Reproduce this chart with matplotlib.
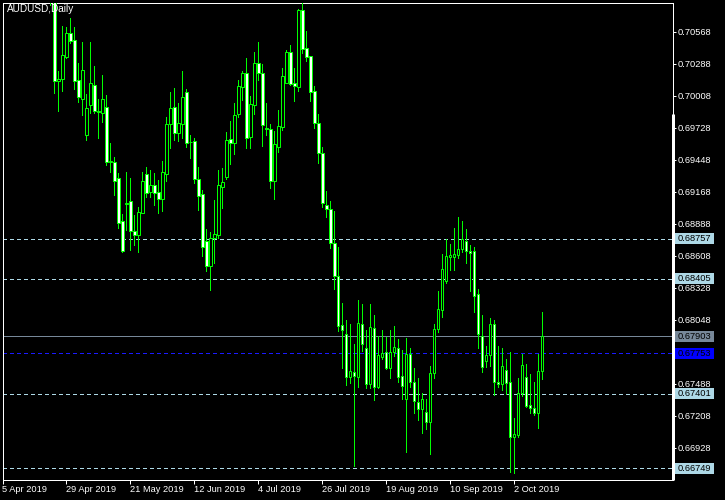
import numpy as np
import matplotlib
matplotlib.use("Agg")
import matplotlib.pyplot as plt
from matplotlib.patches import Rectangle
from matplotlib.lines import Line2D

plt.rcParams['font.family'] = ['Liberation Sans', 'DejaVu Sans']

title = "AUDUSD,Daily"
first_bar = 12  # bar index (trading days since 5 Apr 2019) of the first bar listed

opens = [
    0.71250, 0.71120, 0.70136, 0.70156, 0.70344, 0.70554, 0.70492, 0.70142, 0.69981, 0.69666,
    0.69929, 0.70099, 0.69876, 0.69859, 0.69906, 0.69430, 0.69425, 0.69285, 0.68909, 0.69064,
    0.69084, 0.68821, 0.68791, 0.68984, 0.69323, 0.69165, 0.69224, 0.69162, 0.69104, 0.69325,
    0.69757, 0.69906, 0.69679, 0.69757, 0.70037, 0.69605, 0.69609, 0.69276, 0.69145, 0.68736,
    0.68520, 0.68763, 0.68789, 0.69211, 0.69299, 0.69626, 0.69596, 0.69850, 0.70086, 0.70206,
    0.69649, 0.69929, 0.70294, 0.70204, 0.69722, 0.69714, 0.69264, 0.69561, 0.69736, 0.70121,
    0.70387, 0.70116, 0.70086, 0.70755, 0.70422, 0.70355, 0.70049, 0.69766, 0.69504, 0.69049,
    0.69014, 0.68716, 0.68433, 0.68001, 0.67923, 0.67549, 0.67593, 0.67549, 0.68010, 0.67797,
    0.67487, 0.67978, 0.67461, 0.67724, 0.67765, 0.67628, 0.67768, 0.67797, 0.67555, 0.67356,
    0.67745, 0.67505, 0.67325, 0.67264, 0.67237, 0.67150, 0.67578, 0.67964, 0.68133, 0.68389,
    0.68599, 0.68594, 0.68614, 0.68664, 0.68739, 0.68649, 0.68651, 0.68270, 0.67905, 0.67689,
    0.67739, 0.68007, 0.67505, 0.67482, 0.67608, 0.67500, 0.67024, 0.67039, 0.67404, 0.67544,
    0.67301, 0.67272, 0.67229, 0.67599,
]
highs = [
    0.71400, 0.71180, 0.70224, 0.70617, 0.70611, 0.70685, 0.70606, 0.70291, 0.70475, 0.70020,
    0.70475, 0.70268, 0.69979, 0.70189, 0.70016, 0.69591, 0.69474, 0.69334, 0.68973, 0.69337,
    0.69288, 0.68964, 0.69036, 0.69343, 0.69386, 0.69358, 0.69329, 0.69270, 0.69436, 0.69824,
    0.70037, 0.70072, 0.69941, 0.70224, 0.70066, 0.69664, 0.69635, 0.69386, 0.69183, 0.68841,
    0.68812, 0.69095, 0.69358, 0.69378, 0.69690, 0.69789, 0.69944, 0.70145, 0.70224, 0.70338,
    0.70005, 0.70390, 0.70478, 0.70285, 0.69941, 0.69760, 0.69699, 0.69883, 0.70247, 0.70408,
    0.70451, 0.70250, 0.70766, 0.70830, 0.70574, 0.70355, 0.70093, 0.69848, 0.69559, 0.69174,
    0.69086, 0.68999, 0.68686, 0.68196, 0.68045, 0.68010, 0.67835, 0.68220, 0.68185, 0.67958,
    0.68185, 0.68089, 0.67905, 0.67958, 0.67899, 0.67958, 0.67993, 0.67876, 0.67783, 0.67885,
    0.67797, 0.67622, 0.67535, 0.67404, 0.67351, 0.67643, 0.68010, 0.68299, 0.68620, 0.68751,
    0.68710, 0.68847, 0.68944, 0.68911, 0.68839, 0.68701, 0.68686, 0.68314, 0.68089, 0.67818,
    0.68060, 0.68045, 0.67818, 0.67797, 0.67704, 0.67768, 0.67185, 0.67540, 0.67748, 0.67660,
    0.67573, 0.67505, 0.67748, 0.68118,
]
lows = [
    0.70801, 0.70034, 0.69876, 0.70051, 0.70338, 0.70471, 0.70064, 0.69950, 0.69839, 0.69620,
    0.69859, 0.69854, 0.69637, 0.69780, 0.69401, 0.69343, 0.69139, 0.68847, 0.68636, 0.68832,
    0.68658, 0.68701, 0.68643, 0.68979, 0.69124, 0.69124, 0.69051, 0.68979, 0.68999, 0.69261,
    0.69553, 0.69620, 0.69614, 0.69635, 0.69561, 0.69465, 0.69246, 0.69008, 0.68605, 0.68476,
    0.68307, 0.68546, 0.68760, 0.69028, 0.69279, 0.69413, 0.69498, 0.69821, 0.69970, 0.69553,
    0.69553, 0.69850, 0.70145, 0.69570, 0.69664, 0.69203, 0.69104, 0.69518, 0.69708, 0.70119,
    0.70101, 0.69964, 0.70051, 0.70379, 0.70314, 0.69964, 0.69728, 0.69421, 0.69031, 0.68949,
    0.68672, 0.68319, 0.67951, 0.67622, 0.67476, 0.67496, 0.66770, 0.67461, 0.67776, 0.67452,
    0.67452, 0.67345, 0.67452, 0.67704, 0.67614, 0.67540, 0.67730, 0.67505, 0.67354, 0.66890,
    0.67461, 0.67229, 0.67170, 0.67059, 0.67091, 0.66873, 0.67540, 0.67937, 0.68069, 0.68371,
    0.68483, 0.68483, 0.68585, 0.68640, 0.68541, 0.68301, 0.68118, 0.67803, 0.67593, 0.67636,
    0.67645, 0.67389, 0.67461, 0.67432, 0.67397, 0.66718, 0.66709, 0.67019, 0.67380, 0.67286,
    0.67229, 0.67214, 0.67103, 0.67529,
]
closes = [
    0.71120, 0.70139, 0.70154, 0.70364, 0.70554, 0.70484, 0.70134, 0.69994, 0.70233, 0.69900,
    0.70116, 0.69876, 0.69869, 0.69976, 0.69430, 0.69436, 0.69264, 0.68896, 0.68646, 0.69069,
    0.68821, 0.68791, 0.68987, 0.69259, 0.69159, 0.69224, 0.69159, 0.69104, 0.69337, 0.69757,
    0.69897, 0.69684, 0.69766, 0.69994, 0.69596, 0.69602, 0.69281, 0.69133, 0.68686, 0.68520,
    0.68763, 0.68795, 0.69224, 0.69253, 0.69617, 0.69596, 0.69839, 0.70090, 0.70206, 0.69640,
    0.69932, 0.70294, 0.70204, 0.69754, 0.69716, 0.69264, 0.69582, 0.69743, 0.70177, 0.70387,
    0.70110, 0.70095, 0.70755, 0.70416, 0.70349, 0.70043, 0.69766, 0.69504, 0.69071, 0.69014,
    0.68716, 0.68433, 0.67995, 0.67957, 0.67549, 0.67599, 0.67558, 0.68016, 0.67832, 0.67487,
    0.67986, 0.67461, 0.67736, 0.67759, 0.67628, 0.67768, 0.67806, 0.67549, 0.67470, 0.67747,
    0.67505, 0.67334, 0.67264, 0.67351, 0.67150, 0.67578, 0.67964, 0.68139, 0.68489, 0.68608,
    0.68614, 0.68620, 0.68664, 0.68754, 0.68649, 0.68634, 0.68258, 0.67920, 0.67631, 0.67739,
    0.68007, 0.67505, 0.67482, 0.67643, 0.67496, 0.67024, 0.67045, 0.67409, 0.67651, 0.67295,
    0.67272, 0.67229, 0.67599, 0.67903,
]

date_ticks = [0, 16, 32, 48, 64, 80, 96, 112, 128]
date_labels = ["5 Apr 2019", "29 Apr 2019", "21 May 2019", "12 Jun 2019", "4 Jul 2019",
               "26 Jul 2019", "19 Aug 2019", "10 Sep 2019", "2 Oct 2019"]
price_ticks = [0.70568, 0.70288, 0.70008, 0.69728, 0.69448, 0.69168, 0.68888, 0.68608,
               0.68328, 0.68048, 0.67768, 0.67488, 0.67208, 0.66928]
level_lines = [0.68757, 0.68405, 0.67401, 0.66749]
bid_price = 0.67903
blue_level = 0.67753

W, H = 725, 500
fig = plt.figure(figsize=(W / 100, H / 100), dpi=100, facecolor='black')

def fx(px):
    return px / W

def fy(py):
    return 1 - py / H

ax_l, ax_r, ax_t, ax_b = 2.5, 672.5, 2.5, 479.5
ax = fig.add_axes([fx(ax_l), fy(ax_b), (ax_r - ax_l) / W, (ax_b - ax_t) / H])
ax.set_facecolor('black')
ax.set_xlim(0.05, 167.55)
ax.set_ylim(0.66649, 0.70823)

x = np.arange(first_bar, first_bar + len(opens))
o = np.array(opens); h = np.array(highs); l = np.array(lows); c = np.array(closes)
bull = c >= o

green = '#00FF00'
px = 0.72  # one pixel in points

ax.vlines(x, l, h, color=green, linewidth=px, zorder=3, antialiased=False)
bottoms = np.minimum(o, c)
heights = np.maximum(np.abs(c - o), 0.00001)
face = np.where(bull, 'black', 'white')
ax.bar(x, heights, bottom=bottoms, width=0.55, color=list(face), edgecolor=green,
       linewidth=px, zorder=4)

# horizontal levels
for lv in level_lines:
    ax.axhline(lv, color='#ADD8E6', linewidth=px, linestyle=(0, (4, 3)), zorder=2,
               antialiased=False)
ax.axhline(bid_price, color='#778899', linewidth=px, zorder=2, antialiased=False)
ax.axhline(blue_level, color='#1A1AFF', linewidth=px, linestyle=(0, (4, 3)), zorder=2,
           antialiased=False)

# axes styling
for s in ['left', 'right', 'top', 'bottom']:
    ax.spines[s].set_color('white')
    ax.spines[s].set_linewidth(px)
ax.yaxis.tick_right()
ax.set_yticks(price_ticks)
ax.set_yticklabels([f"{v:.5f}" for v in price_ticks])
ax.tick_params(axis='y', colors='white', direction='out', length=2.2, width=px,
               pad=1.5, labelsize=6.7, labelcolor='white')
ax.set_xticks(date_ticks)
ax.set_xticklabels(date_labels)
ax.tick_params(axis='x', colors='white', direction='out', length=2.9, width=px,
               pad=1.0, labelsize=6.7, labelcolor='white')
for lab in ax.get_xticklabels():
    lab.set_ha('left')

# thicker segment of the right border
fig.add_artist(Line2D([fx(673.0), fx(673.0)], [fy(114), fy(ax_b)], color='white',
                      linewidth=3 * px, solid_capstyle='butt'))

# price label boxes
def price_box(val, fc):
    ypix = ax.transData.transform((0, val))[1]
    yc = ypix / H
    bh = 11 / H
    fig.add_artist(Rectangle((fx(675), yc - bh / 2), 39 / W, bh, transform=fig.transFigure,
                             facecolor=fc, edgecolor='none', zorder=5))
    fig.text(fx(677.5), yc, f"{val:.5f}", color='black', fontsize=6.7, ha='left',
             va='center', zorder=6)

for lv in level_lines:
    price_box(lv, '#ADD8E6')
price_box(bid_price, '#778899')
price_box(blue_level, '#0000FF')

fig.text(fx(7), fy(9.5), title, color='white', fontsize=7.2, ha='left', va='center')

fig.savefig('out.png', dpi=100, facecolor='black')
